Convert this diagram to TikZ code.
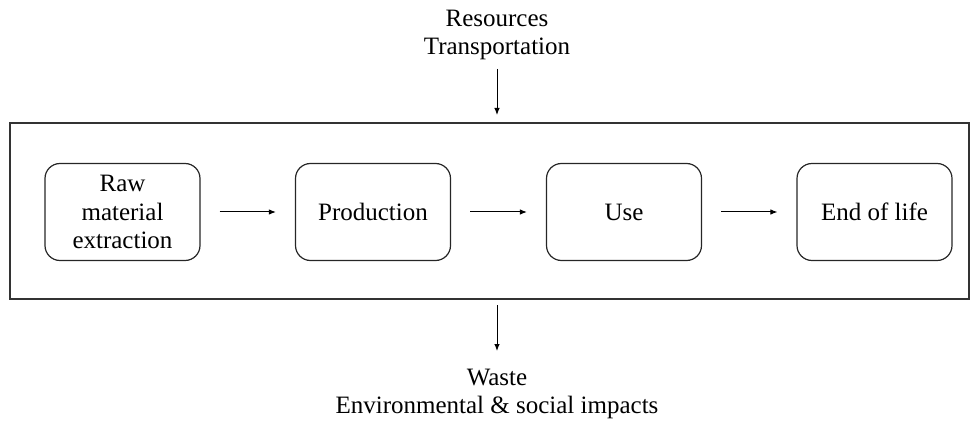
\documentclass[tikz,border=0pt]{standalone}
\usepackage{fontspec}
\setmainfont{Liberation Serif}
\usetikzlibrary{arrows.meta}
\begin{document}
\begin{tikzpicture}[x=1pt,y=1pt,
  every node/.style={font=\fontsize{25}{28.5}\selectfont},
  stage/.style={draw=black!85, line width=1.2pt, rounded corners=15pt,
    minimum width=155pt, minimum height=97pt, align=center, inner sep=2pt},
  frame/.style={draw=black!80, line width=1.3pt, minimum width=959pt, minimum height=176pt, inner sep=0pt},
  arr/.style={-{Latex[length=7pt,width=5.5pt]}, line width=1pt},
  lbl/.style={align=center, inner sep=0pt}]
\useasboundingbox (0,0) rectangle (980,421);
\node[frame] (frame) at (489.5,210) {};
\node[stage] (raw) at (122.5,209) {Raw\\material\\extraction};
\node[stage] (prod) at (373,209) {Production};
\node[stage] (use) at (624,209) {Use};
\node[stage] (eol) at (874.5,209) {End of life};
\node[lbl] (res) at (497,386) {Resources\\Transportation};
\node[lbl] (waste) at (497,27) {Waste\\Environmental \& social impacts};
\draw[arr, shorten <=19pt, shorten >=19pt] (raw) -- (prod);
\draw[arr, shorten <=19pt, shorten >=19pt] (prod) -- (use);
\draw[arr, shorten <=19pt, shorten >=19pt] (use) -- (eol);
\coordinate (ta) at (497,352);
\coordinate (tb) at (497,306);
\coordinate (ba) at (497,116);
\coordinate (bb) at (497,70);
\draw[arr] (ta) -- (tb);
\draw[arr] (ba) -- (bb);
\end{tikzpicture}
\end{document}
